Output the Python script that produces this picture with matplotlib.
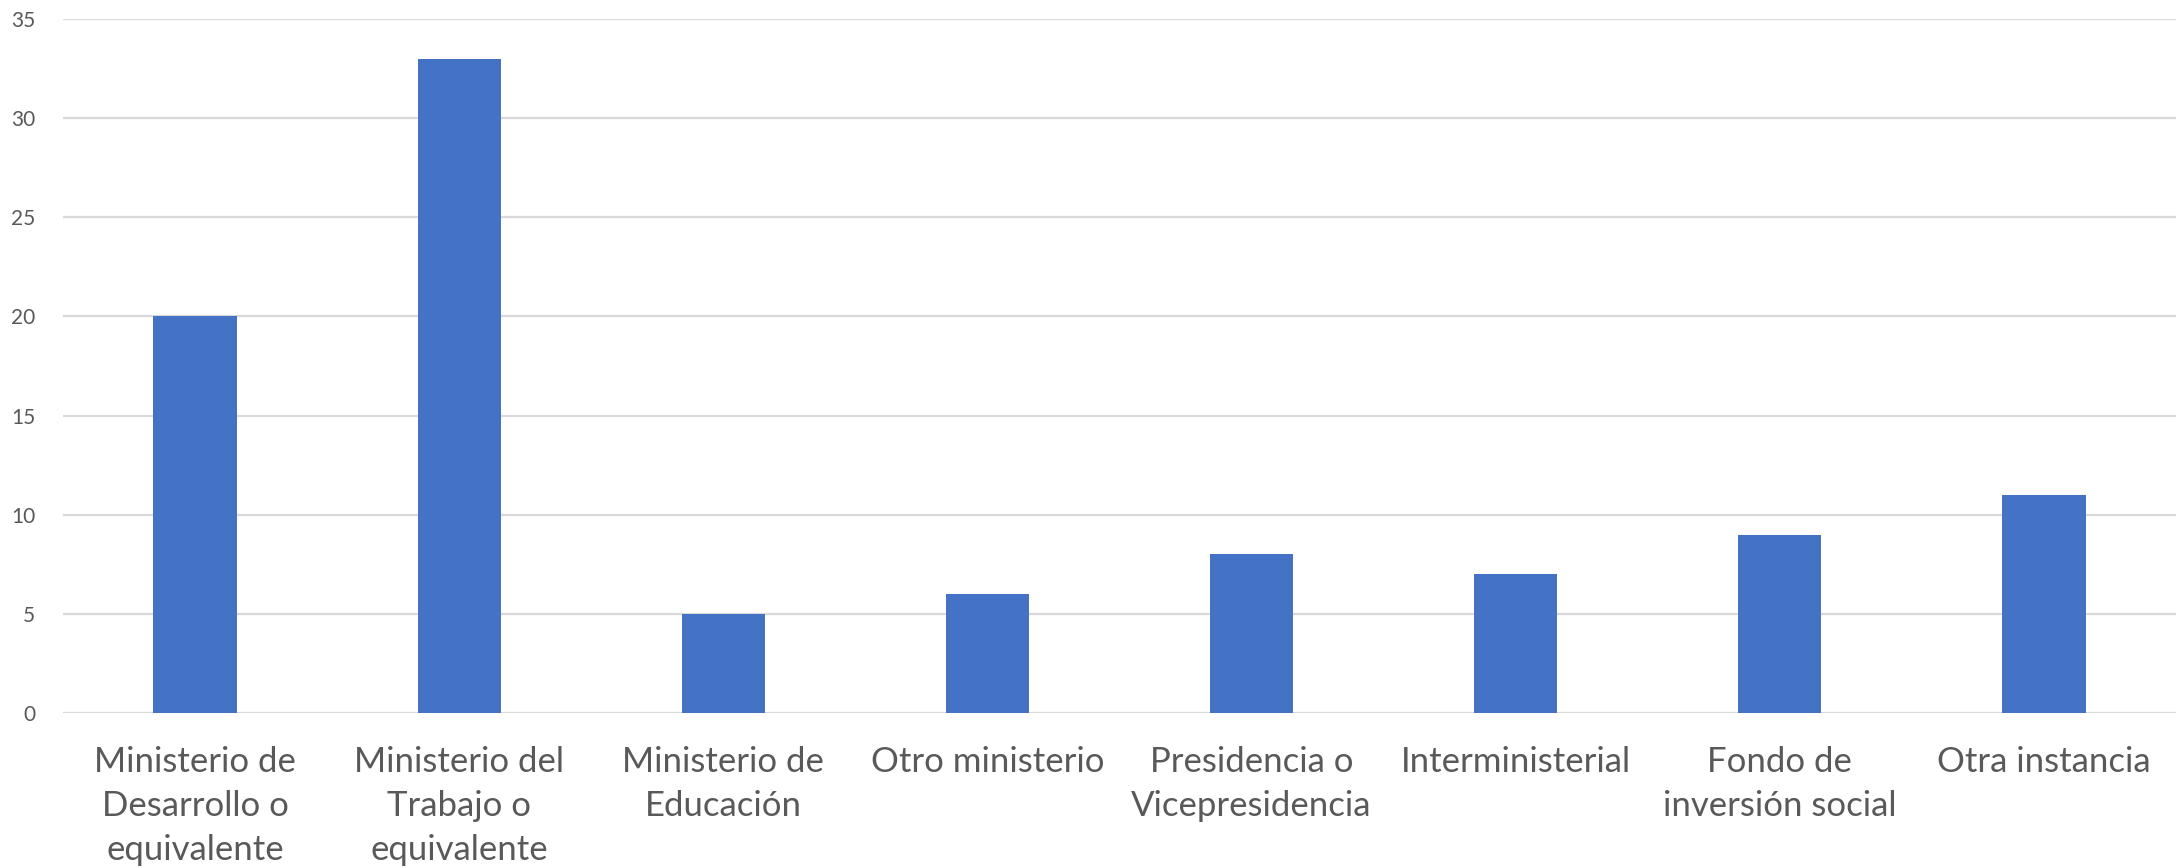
import matplotlib
matplotlib.use("Agg")
import matplotlib.pyplot as plt
import numpy as np

categories = [
    "Ministerio de\nDesarrollo o\nequivalente",
    "Ministerio del\nTrabajo o\nequivalente",
    "Ministerio de\nEducación",
    "Otro ministerio",
    "Presidencia o\nVicepresidencia",
    "Interministerial",
    "Fondo de\ninversión social",
    "Otra instancia",
]
values = [20, 33, 5, 6, 8, 7, 9, 11]
yticks = [0, 5, 10, 15, 20, 25, 30, 35]

plt.rcParams['font.family'] = ['Lato', 'DejaVu Sans']

fig = plt.figure(figsize=(21.83, 8.68), dpi=100)
ax = fig.add_axes([63/2183, 1-713/868, (2176-63)/2183, (713-19)/868])

x = np.arange(len(categories))
ax.bar(x, values, width=0.315, color="#4472C4", zorder=3)

ax.set_xlim(-0.5, len(categories)-0.5)
ax.set_ylim(0, 35)
ax.set_yticks(yticks)
ax.set_yticklabels([str(t) for t in yticks], fontsize=15, color="#595959")
ax.set_xticks(x)
ax.set_xticklabels(categories, fontsize=25, color="#595959", linespacing=1.45)
ax.tick_params(axis='both', length=0)
ax.tick_params(axis='y', pad=20)
ax.tick_params(axis='x', pad=24)
ax.grid(axis='y', color="#D9D9D9", linewidth=1.6, zorder=0)
for s in ax.spines.values():
    s.set_visible(False)

fig.savefig("out.png", dpi=100)
